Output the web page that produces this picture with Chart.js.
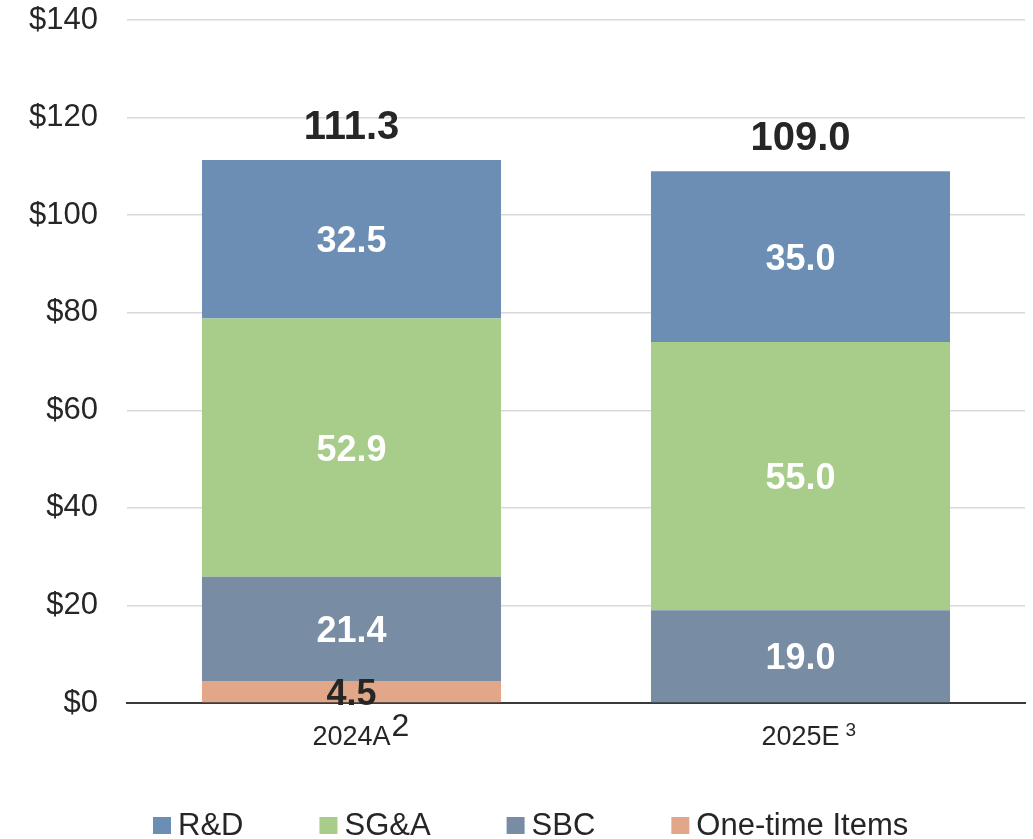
<!DOCTYPE html>
<html>
<head>
<meta charset="utf-8">
<script src="https://cdn.jsdelivr.net/npm/chart.js@4/dist/chart.umd.min.js"></script>
<style>
  html, body { margin: 0; padding: 0; background: #ffffff; }
  #wrap { width: 1033px; height: 839px; }
</style>
</head>
<body>
<div id="wrap"><canvas id="c" width="1033" height="839"></canvas></div>
<script>
// ---- data ----
const categories = ['2024A', '2025E'];
const categorySup = ['2', '3'];
const seriesNames = ['R&D', 'SG&A', 'SBC', 'One-time Items'];
const rdValues = [32.5, 35.0];
const sgaValues = [52.9, 55.0];
const sbcValues = [21.4, 19.0];
const oneTimeValues = [4.5, 0];
const yTickValues = [0, 20, 40, 60, 80, 100, 120, 140];

// ---- styles ----
const FONT = '"Liberation Sans", Arial, Helvetica, sans-serif';
const TEXT = '#262626';
const colors = {
  'R&D': '#6C8EB4',
  'SG&A': '#A8CC8A',
  'SBC': '#788CA4',
  'One-time Items': '#E2A789'
};
const labelColors = {
  'R&D': '#ffffff',
  'SG&A': '#ffffff',
  'SBC': '#ffffff',
  'One-time Items': TEXT
};

// bottom-to-top stacking order
const datasets = [
  { label: seriesNames[3], data: oneTimeValues },
  { label: seriesNames[2], data: sbcValues },
  { label: seriesNames[1], data: sgaValues },
  { label: seriesNames[0], data: rdValues }
].map(d => Object.assign(d, {
  backgroundColor: colors[d.label],
  borderWidth: 0,
  barPercentage: 1.0,
  categoryPercentage: 0.666
}));

const labelPlugin = {
  id: 'valueLabels',
  afterDatasetsDraw(chart) {
    const ctx = chart.ctx;
    ctx.save();
    ctx.textAlign = 'center';
    ctx.textBaseline = 'alphabetic';
    chart.data.datasets.forEach((ds, di) => {
      const meta = chart.getDatasetMeta(di);
      meta.data.forEach((bar, i) => {
        const v = ds.data[i];
        if (!v) return;
        const cy = (bar.y + bar.base) / 2;
        ctx.font = 'bold 36px ' + FONT;
        ctx.fillStyle = labelColors[ds.label];
        ctx.fillText(v.toFixed(1), bar.x, cy + 13);
      });
    });
    // totals
    const xs = chart.scales.x, ys = chart.scales.y;
    categories.forEach((c, i) => {
      let total = 0;
      chart.data.datasets.forEach(ds => { total += ds.data[i] || 0; });
      const x = xs.getPixelForValue(i);
      const yTop = ys.getPixelForValue(total);
      ctx.font = 'bold 40px ' + FONT;
      ctx.fillStyle = TEXT;
      ctx.fillText(total.toFixed(1), x, yTop - 21);
    });
    ctx.restore();
  },
  afterDraw(chart) {
    const ctx = chart.ctx;
    const xs = chart.scales.x;
    ctx.save();
    // superscripts on category labels
    const supStyle = [
      { size: 32, gap: 1 },
      { size: 19, gap: 6 }
    ];
    categories.forEach((c, i) => {
      const x = xs.getPixelForTick(i);
      ctx.font = '27px ' + FONT;
      const w = ctx.measureText(c).width;
      const s = supStyle[i];
      ctx.font = s.size + 'px ' + FONT;
      ctx.fillStyle = TEXT;
      ctx.textAlign = 'left';
      ctx.textBaseline = 'alphabetic';
      ctx.fillText(categorySup[i], x + w / 2 + s.gap, xs.top + 33);
    });
    // legend
    const items = chart.data.datasets.slice().reverse();
    let lx = 153;
    const boxTop = 817, box = 18, baseline = 835;
    ctx.font = '31px ' + FONT;
    items.forEach(ds => {
      ctx.fillStyle = ds.backgroundColor;
      ctx.fillRect(lx, boxTop, box, box - 1);
      ctx.fillStyle = TEXT;
      ctx.textAlign = 'left';
      ctx.textBaseline = 'alphabetic';
      ctx.fillText(ds.label, lx + box + 7, baseline);
      lx += box + 7 + ctx.measureText(ds.label).width + 76;
    });
    ctx.restore();
  }
};

new Chart(document.getElementById('c'), {
  type: 'bar',
  data: { labels: categories, datasets: datasets },
  options: {
    responsive: false,
    animation: false,
    devicePixelRatio: 1,
    layout: { padding: { left: 0, right: 8, top: 20, bottom: 0 } },
    plugins: {
      legend: { display: false },
      tooltip: { enabled: false }
    },
    scales: {
      x: {
        stacked: true,
        z: 1,
        grid: { display: false, drawTicks: false },
        border: { display: true, color: '#3a3a3a', width: 2 },
        ticks: { color: TEXT, font: { family: FONT, size: 27 }, padding: 18 },
        afterFit(scale) { scale.height = 136; scale.paddingLeft = 0; scale.paddingRight = 0; }
      },
      y: {
        stacked: true,
        min: 0,
        max: 140,
        afterBuildTicks(scale) { scale.ticks = yTickValues.map(v => ({ value: v })); },
        afterFit(scale) { scale.width = 127; scale.paddingTop = 0; scale.paddingBottom = 0; },
        grid: {
          drawTicks: false,
          lineWidth: 1.5,
          color: ctx => (ctx.tick && ctx.tick.value === 0) ? 'rgba(0,0,0,0)' : '#D9D9D9'
        },
        border: { display: false },
        ticks: {
          color: TEXT,
          font: { family: FONT, size: 31 },
          padding: 29,
          callback: v => '$' + v
        }
      }
    }
  },
  plugins: [labelPlugin]
});
</script>
</body>
</html>
